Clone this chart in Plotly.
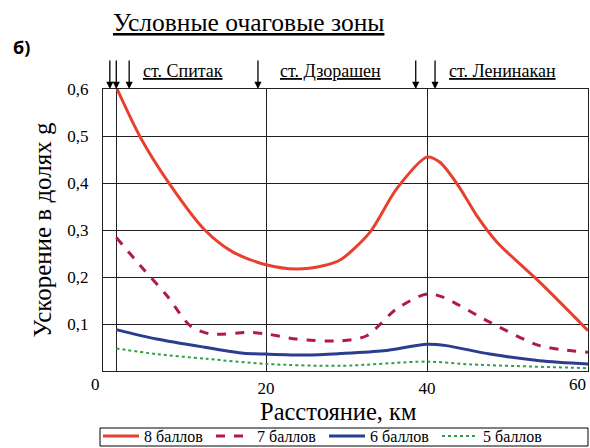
import plotly.graph_objects as go

# Peak ground acceleration (fractions of g) vs distance, km
x8 = [1.5, 4.4, 7.9, 12.4, 15.9, 20, 23.8, 27.1, 29.2, 32.9, 36.2, 40, 41.6, 43.9, 46.2, 48.7, 54, 60]
y8 = [0.6, 0.497, 0.401, 0.30, 0.253, 0.226, 0.217, 0.224, 0.236, 0.295, 0.387, 0.455, 0.444, 0.394, 0.330, 0.274, 0.189, 0.086]

x7 = [1.4, 4.4, 7.7, 10.6, 13, 18, 20, 23.8, 29.2, 32.5, 36.2, 40, 42, 47.8, 54, 60]
y7 = [0.284, 0.224, 0.160, 0.096, 0.079, 0.082, 0.079, 0.068, 0.064, 0.075, 0.132, 0.164, 0.157, 0.104, 0.054, 0.040]

x6 = [1.4, 6.4, 12.6, 17.2, 20, 25, 29.2, 34.6, 40, 42.4, 47.8, 54, 60]
y6 = [0.088, 0.068, 0.050, 0.038, 0.036, 0.034, 0.037, 0.043, 0.057, 0.054, 0.036, 0.022, 0.015]

x5 = [1.4, 6.4, 12.6, 20, 29.2, 40, 45.5, 60]
y5 = [0.048, 0.036, 0.026, 0.015, 0.011, 0.020, 0.014, 0.006]

series_names = ["8 баллов", "7 баллов", "6 баллов", "5 баллов"]

# Source-zone markers along the profile, km
zone_arrows = [0.6, 1.4, 3.0, 19.0, 38.6, 41.0]
stations = ["ст. Спитак", "ст. Дзорашен", "ст. Ленинакан"]
station_pos = [9.7, 28.0, 49.4]

y_ticks = [0.1, 0.2, 0.3, 0.4, 0.5, 0.6]
y_ticktext = ["0,1", "0,2", "0,3", "0,4", "0,5", "0,6"]
x_ticks = [1.4, 20, 40, 60]
x_ticktext = ["", "20", "40", ""]

SERIF = "Liberation Serif"

W, H = 590, 448
L, R, T, B = 103, 2, 89, 77
pw, ph = W - L - R, H - T - B


def px_to_paper(px, py):
    return (px - L) / pw, (H - B - py) / ph


fig = go.Figure()
fig.add_trace(go.Scatter(x=x8, y=y8, mode="lines", name=series_names[0],
                         line=dict(color="#e8402f", width=3, shape="spline", smoothing=0.8)))
fig.add_trace(go.Scatter(x=x7, y=y7, mode="lines", name=series_names[1],
                         line=dict(color="#b3174f", width=3, dash="dash", shape="spline", smoothing=0.8)))
fig.add_trace(go.Scatter(x=x6, y=y6, mode="lines", name=series_names[2],
                         line=dict(color="#2a3d8f", width=3, shape="spline", smoothing=0.8)))
fig.add_trace(go.Scatter(x=x5, y=y5, mode="lines", name=series_names[3],
                         line=dict(color="#2e9e48", width=2, dash="dot", shape="spline", smoothing=0.8)))

annotations = []
for xa in zone_arrows:
    annotations.append(dict(x=xa, y=1, xref="x", yref="paper", text="", showarrow=True,
                            ax=0, ay=-30, arrowhead=2, arrowsize=1.1, arrowwidth=1.3,
                            arrowcolor="black", standoff=0))
for name, xs in zip(stations, station_pos):
    annotations.append(dict(x=xs, y=1, xref="x", yref="paper", yanchor="bottom", yshift=6,
                            text="<u>" + name + "</u>", showarrow=False,
                            font=dict(family=SERIF, size=18, color="black")))
tx, ty = px_to_paper(248, 22)
annotations.append(dict(x=tx, y=ty, xref="paper", yref="paper", showarrow=False,
                        xanchor="center", yanchor="middle",
                        text="<u>Условные очаговые зоны</u>",
                        font=dict(family=SERIF, size=25.5, color="black")))
annotations.append(dict(x=0, y=0, xref="x", yref="y", showarrow=False, text="0",
                        xshift=-10, yshift=-13,
                        font=dict(family=SERIF, size=17, color="black")))
# Last x tick label, pulled inside the right edge
annotations.append(dict(x=1, y=0, xref="paper", yref="paper", showarrow=False, text="60",
                        xanchor="right", yanchor="top", yshift=-2,
                        font=dict(family=SERIF, size=17, color="black")))
bx, by = px_to_paper(11, 33)
annotations.append(dict(x=bx, y=by, xref="paper", yref="paper", showarrow=False, text="<b>б)</b>",
                        xanchor="left", yanchor="top",
                        font=dict(family="Open Sans", size=18, color="black")))
# Horizontal axis title, set slightly left of the plot centre
xtx, xty = px_to_paper(338, 411)
annotations.append(dict(x=xtx, y=xty, xref="paper", yref="paper", showarrow=False,
                        xanchor="center", yanchor="middle", text="Расстояние, км",
                        font=dict(family=SERIF, size=24.5, color="black")))

# Frame around the legend strip
lx0, ly0 = px_to_paper(100, 428)
lx1, ly1 = px_to_paper(588, 446)
shapes = [dict(type="rect", xref="paper", yref="paper", x0=lx0, y0=ly0, x1=lx1, y1=ly1,
               line=dict(color="black", width=1), fillcolor="rgba(0,0,0,0)")]

fig.update_layout(
    width=W, height=H,
    margin=dict(l=L, r=R, t=T, b=B, autoexpand=False),
    paper_bgcolor="white", plot_bgcolor="white",
    showlegend=True,
    legend=dict(orientation="h", x=px_to_paper(98, 0)[0], y=px_to_paper(0, 419)[1],
                xanchor="left", yanchor="top",
                borderwidth=0, bgcolor="rgba(0,0,0,0)",
                font=dict(family=SERIF, size=16, color="black"),
                itemwidth=36, tracegroupgap=0,
                entrywidth=62, entrywidthmode="pixels"),
    annotations=annotations,
    shapes=shapes,
    xaxis=dict(range=[-0.25, 60], tickvals=x_ticks, ticktext=x_ticktext,
               showgrid=True, gridcolor="#222", gridwidth=1,
               showline=True, linecolor="#222", linewidth=1, mirror=True,
               zeroline=False, ticks="", ticklabelstandoff=2,
               tickfont=dict(family=SERIF, size=17, color="black")),
    yaxis=dict(range=[0, 0.6], tickvals=y_ticks, ticktext=y_ticktext,
               showgrid=True, gridcolor="#222", gridwidth=1,
               showline=True, linecolor="#222", linewidth=1, mirror=True,
               zeroline=False, ticks="", ticklabelstandoff=10,
               tickfont=dict(family=SERIF, size=17, color="black"),
               title=dict(text="Ускорение в долях g", standoff=8,
                          font=dict(family=SERIF, size=25, color="black"))),
)

fig.write_html("out.html")
